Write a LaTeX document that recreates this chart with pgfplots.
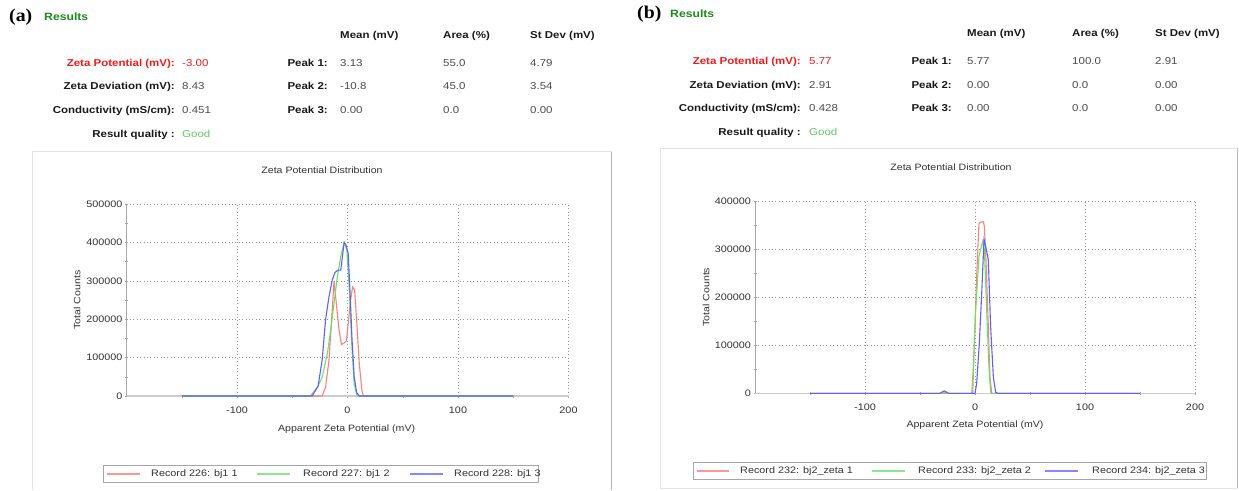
\documentclass[border=0pt]{standalone}
\usepackage{fontspec}
\setmainfont{Liberation Sans}[FakeStretch=1.15]
\newfontfamily\serifb{Liberation Serif}[FakeStretch=1.1]
\usepackage{pgfplots}
\pgfplotsset{compat=1.18}

\definecolor{resgreen}{RGB}{25,140,25}
\definecolor{goodgreen}{RGB}{95,200,95}
\definecolor{zred}{RGB}{250,25,25}
\definecolor{valgray}{RGB}{75,75,75}
\definecolor{lblack}{RGB}{25,25,25}
\definecolor{cred}{RGB}{255,125,125}
\definecolor{cgreen}{RGB}{105,225,105}
\definecolor{cblue}{RGB}{95,95,255}
\definecolor{lred}{RGB}{255,150,150}
\definecolor{lgreen}{RGB}{140,232,140}
\definecolor{lblue}{RGB}{135,135,255}
\definecolor{tgray}{RGB}{50,50,50}

\pgfplotsset{zeta/.style={
  scale only axis, xmin=-200, xmax=200, ymin=0,
  axis x line=bottom, axis y line=left,
  axis line style={-, gray!70, line width=0.7pt},
  x axis line style={line width=1.6pt, gray!40},
  xtick={-100,0,100,200}, xticklabels={-100,0,100,200},
  minor xtick={-150,-50,50,150},
  scaled y ticks=false,
  grid=major,
  major grid style={gray!85, dash pattern=on 0.8pt off 2.6pt, line width=0.6pt},
  tick style={gray!70, line width=0.5pt},
  major tick length=3pt, minor tick length=3pt, tick align=center,
  ticklabel style={font=\fontsize{9.4}{10}\selectfont, text=tgray},
  xticklabel style={yshift=-6pt},
  yticklabel style={xshift=1pt},
  label style={font=\fontsize{9.2}{10}\selectfont, text=tgray},
  xlabel={Apparent Zeta Potential (mV)}, ylabel={Total Counts},
  every axis plot/.append style={line width=1.1pt},
}}

\begin{document}
\begin{tikzpicture}[x=1pt,y=1pt]
\path[use as bounding box] (0,0) rectangle (1239,490);

% ---------- plot (a) ----------
\begin{axis}[zeta, at={(126.5pt,94pt)}, anchor=south west,
  width=442pt, height=192pt, ymax=500000,
  ytick={0,100000,200000,300000,400000,500000},
  yticklabels={0,100000,200000,300000,400000,500000},
  minor ytick={50000,150000,250000,350000,450000},
  ylabel style={at={(axis description cs:-0.112,0.5)}, anchor=center},
  xlabel style={at={(axis description cs:0.498,-0.172)}, anchor=center},
]
\addplot[color=cred] coordinates {
(-150,0) (-23,0) (-19.9,22000) (-16.8,92000) (-14.4,197000) (-12.2,299000)
(-10.1,241000) (-7.6,171000) (-5.5,134000) (-3.0,138000) (-0.9,144000)
(0.9,197000) (2.8,249000) (4.6,284000) (6.4,276000) (8.3,197000)
(10.7,83000) (13.1,13000) (14.4,0) (150,0)};
\addplot[color=cgreen] coordinates {
(-150,0) (-33.6,0) (-27.5,22000) (-23,48000) (-18.3,109000) (-15.3,171000)
(-12.2,241000) (-9.2,311000) (-6.1,363000) (-3.0,400000) (-0.6,381000)
(1.5,284000) (4.0,127000) (6.1,31000) (8.3,4000) (10,0) (150,0)};
\addplot[color=cblue] coordinates {
(-150,0) (-32,0) (-26.6,26000) (-23,92000) (-19.9,197000) (-16.8,258000)
(-13.8,302000) (-11.3,322000) (-8.3,328000) (-6.1,328000) (-3.0,400000)
(-1.5,394000) (0.6,372000) (2.1,284000) (4.0,153000) (6.1,48000)
(8.3,9000) (10.7,0) (150,0)};
\end{axis}

% ---------- plot (b) ----------
\begin{axis}[zeta, at={(755pt,96.7pt)}, anchor=south west,
  width=440pt, height=192.3pt, ymax=400000,
  ytick={0,100000,200000,300000,400000},
  yticklabels={0,100000,200000,300000,400000},
  minor ytick={50000,150000,250000,350000},
  ylabel style={at={(axis description cs:-0.111,0.5)}, anchor=center},
  xlabel style={at={(axis description cs:0.5,-0.165)}, anchor=center},
]
\addplot[color=cred] coordinates {
(-150,0) (-2.1,0) (-0.6,103000) (1.5,243000) (3.6,353000) (5.2,356000)
(7.6,357000) (8.5,347000) (10.0,278000) (12.1,138000) (13.6,33000)
(15.2,0) (150,0)};
\addplot[color=cgreen] coordinates {
(-150,0) (-31,0) (-28,2000) (-25,0) (-3.0,0) (-1.5,54000) (0.6,173000)
(3.6,285000) (7.0,316000) (8.5,299000) (10.6,173000) (12.7,54000)
(14.2,2000) (15.5,0) (150,0)};
\addplot[color=cblue] coordinates {
(-150,0) (-32,0) (-28,5000) (-24,0) (0,0) (1.5,20000) (3.9,103000)
(6.1,208000) (8.2,320000) (9.7,306000) (12.1,278000) (14.2,138000)
(16.7,33000) (18.8,2000) (20.6,0) (150,0)};
\end{axis}

% ---------- legends ----------
\begin{scope}[every node/.style={inner sep=0, anchor=mid west, font=\fontsize{9.4}{10}\selectfont, text=tgray}]
\draw[gray!70, line width=0.7pt] (103,8) rectangle (538,25);
\draw[lred, line width=1.6pt] (107,16) -- (140,16);
\draw[lgreen, line width=1.6pt] (257,16) -- (290,16);
\draw[lblue, line width=1.6pt] (410,16) -- (443,16);
\node at (151,16.5) {Record 226: bj1 1};
\node at (303,16.5) {Record 227: bj1 2};
\node at (454,16.5) {Record 228: bj1 3};
\draw[gray!70, line width=0.7pt] (693,11) rectangle (1206,28);
\draw[lred, line width=1.6pt] (697,19) -- (729,19);
\draw[lgreen, line width=1.6pt] (872,19) -- (905,19);
\draw[lblue, line width=1.6pt] (1045,19) -- (1078,19);
\node at (740,19.5) {Record 232: bj2\_zeta 1};
\node at (918,19.5) {Record 233: bj2\_zeta 2};
\node at (1092,19.5) {Record 234: bj2\_zeta 3};
\end{scope}

% ---------- frames ----------
\draw[gray!22, line width=0.9pt] (32,0) -- (32,338.3) -- (611.7,338.3);
\draw[gray!60, line width=0.9pt] (611.7,338.3) -- (611.7,0);
\draw[gray!22, line width=0.9pt] (1237,2) -- (660,2) -- (660,342) -- (1237,342);
\draw[gray!55, line width=0.9pt] (1237,342) -- (1237,2);

\node[font=\fontsize{9.2}{10}\selectfont, text=tgray] at (322,320) {Zeta Potential Distribution};
\node[font=\fontsize{9.2}{10}\selectfont, text=tgray] at (951,323) {Zeta Potential Distribution};

% ---------- panel (a) header ----------
\node[anchor=west, inner sep=0, font=\serifb\fontsize{18}{18}\selectfont\bfseries] at (9,473) {(a)};
\node[anchor=west, inner sep=0, font=\fontsize{10.6}{12}\selectfont\bfseries, text=resgreen] at (44,473) {Results};
\begin{scope}[every node/.style={inner sep=0, font=\fontsize{10}{12}\selectfont\bfseries, text=lblack}]
\node[anchor=mid west] at (340,454) {Mean (mV)};
\node[anchor=mid west] at (443,454) {Area (\%)};
\node[anchor=mid west] at (530,454) {St Dev (mV)};
\node[anchor=mid east, text=zred] at (175,426) {Zeta Potential (mV):};
\node[anchor=mid east] at (175,403) {Zeta Deviation (mV):};
\node[anchor=mid east] at (175,379) {Conductivity (mS/cm):};
\node[anchor=mid east] at (175,355) {Result quality :};
\node[anchor=mid east] at (328,426) {Peak 1:};
\node[anchor=mid east] at (328,403) {Peak 2:};
\node[anchor=mid east] at (328,379) {Peak 3:};
\end{scope}
\begin{scope}[every node/.style={inner sep=0, font=\fontsize{10}{12}\selectfont, text=valgray, anchor=mid west}]
\node[text=zred] at (182,426) {-3.00};
\node at (182,403) {8.43};
\node at (182,379) {0.451};
\node[text=goodgreen] at (182,355) {Good};
\node at (340,426) {3.13};  \node at (443,426) {55.0}; \node at (530,426) {4.79};
\node at (340,403) {-10.8}; \node at (443,403) {45.0}; \node at (530,403) {3.54};
\node at (340,379) {0.00};  \node at (443,379) {0.0};  \node at (530,379) {0.00};
\end{scope}

% ---------- panel (b) header ----------
\node[anchor=west, inner sep=0, font=\serifb\fontsize{18}{18}\selectfont\bfseries] at (637,476) {(b)};
\node[anchor=west, inner sep=0, font=\fontsize{10.6}{12}\selectfont\bfseries, text=resgreen] at (670,476) {Results};
\begin{scope}[every node/.style={inner sep=0, font=\fontsize{10}{12}\selectfont\bfseries, text=lblack}]
\node[anchor=mid west] at (967,456) {Mean (mV)};
\node[anchor=mid west] at (1072,456) {Area (\%)};
\node[anchor=mid west] at (1155,456) {St Dev (mV)};
\node[anchor=mid east, text=zred] at (801,428) {Zeta Potential (mV):};
\node[anchor=mid east] at (801,404) {Zeta Deviation (mV):};
\node[anchor=mid east] at (801,381) {Conductivity (mS/cm):};
\node[anchor=mid east] at (801,357) {Result quality :};
\node[anchor=mid east] at (952,428) {Peak 1:};
\node[anchor=mid east] at (952,404) {Peak 2:};
\node[anchor=mid east] at (952,381) {Peak 3:};
\end{scope}
\begin{scope}[every node/.style={inner sep=0, font=\fontsize{10}{12}\selectfont, text=valgray, anchor=mid west}]
\node[text=zred] at (809,428) {5.77};
\node at (809,404) {2.91};
\node at (809,381) {0.428};
\node[text=goodgreen] at (809,357) {Good};
\node at (967,428) {5.77}; \node at (1072,428) {100.0}; \node at (1155,428) {2.91};
\node at (967,404) {0.00}; \node at (1072,404) {0.0};   \node at (1155,404) {0.00};
\node at (967,381) {0.00}; \node at (1072,381) {0.0};   \node at (1155,381) {0.00};
\end{scope}
\end{tikzpicture}
\end{document}
